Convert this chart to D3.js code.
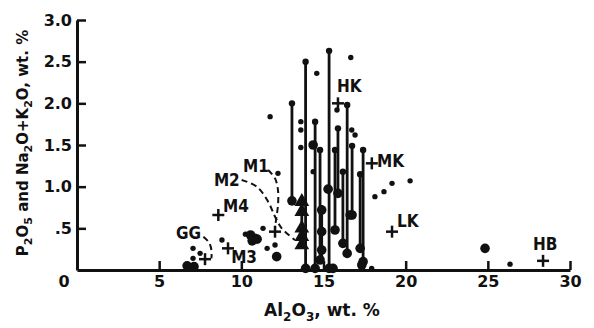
<!DOCTYPE html>
<html><head><meta charset="utf-8">
<script src="https://cdn.jsdelivr.net/npm/d3@7"></script>
<style>
html,body{margin:0;padding:0;background:#fff;}
svg{display:block;}
text{font-family:"DejaVu Sans",sans-serif;font-weight:bold;fill:#111;}
.lab{font-family:"DejaVu Sans Condensed","DejaVu Sans",sans-serif;font-stretch:condensed;}
</style></head>
<body>
<svg id="c" width="594" height="328"></svg>
<script>
// ---- data (Al2O3 wt.% , P2O5 / Na2O+K2O wt.%) ----
const xTicks = [5, 10, 15, 20, 25, 30];
const yTicks = [0.5, 1.0, 1.5, 2.0, 2.5, 3.0];
const yTickLabels = [".5", "1.0", "1.5", "2.0", "2.5", "3.0"];
// tie lines: [Al2O3, low value, high value]
const tieLines = [
  [13.08, 0.83, 2.00], [13.91, 0.02, 2.50], [14.49, 0.02, 1.78], [14.79, 0.12, 1.44],
  [15.34, 0.02, 2.63], [15.88, 0.92, 1.70], [16.44, 0.20, 1.98], [16.74, 0.66, 1.49],
  [17.41, 0.10, 1.44], [15.70, 0.48, 1.44], [16.18, 0.32, 1.18], [17.23, 0.26, 1.15],
  [13.68, 0.28, 0.86], [14.89, 0.12, 0.78]
];
const smallDots = [
  [11.75, 1.84], [14.59, 2.36], [16.66, 2.55], [13.62, 1.78], [13.62, 1.68], [13.62, 1.47],
  [15.82, 1.92], [16.72, 1.68], [16.92, 1.62], [14.37, 1.18], [12.23, 1.16],
  [18.13, 0.88], [18.68, 0.94], [19.17, 1.04], [20.27, 1.07],
  [26.35, 0.07], [17.93, 0.02], [11.32, 0.50], [11.57, 0.26], [12.05, 0.30],
  [8.82, 0.36], [10.25, 0.43], [7.06, 0.26], [7.06, 0.14], [7.49, 0.20]
];
const bigDots = [
  [14.37, 1.50], [15.28, 0.97], [16.62, 0.66], [14.89, 0.72], [14.89, 0.46], [14.89, 0.24],
  [12.15, 0.16], [24.83, 0.26], [6.70, 0.05], [7.12, 0.04],
  [10.56, 0.42], [10.81, 0.38], [10.66, 0.35], [10.96, 0.37], [15.58, 0.02], [17.33, 0.06]
];
const triangles = [[13.68, 0.82], [13.68, 0.70], [13.68, 0.50], [13.68, 0.40], [13.68, 0.30]];
const crosses = [[7.79, 0.13], [8.60, 0.66], [9.19, 0.26], [12.05, 0.46], [15.88, 2.00], [17.94, 1.28], [19.17, 0.46], [28.36, 0.11]];
// sample labels: [text, Al2O3, value, anchor]
const sampleLabels = [
  ["GG", 7.55, 0.37, "end"], ["M4", 8.89, 0.70, "start"], ["M2", 8.33, 1.01, "start"],
  ["M1", 10.10, 1.18, "start"], ["M3", 9.38, 0.08, "start"], ["HK", 15.82, 2.14, "start"],
  ["MK", 18.26, 1.24, "start"], ["LK", 19.48, 0.52, "start"], ["HB", 27.75, 0.24, "start"]
];
const ggCurve = [[7.69, 0.40], [8.03, 0.33], [8.18, 0.24], [8.18, 0.14]];
const m1Curve = [[11.63, 1.20], [12.05, 1.10], [12.23, 0.96], [12.23, 0.78], [12.11, 0.60], [12.05, 0.50]];
const m2Curve = [[10.02, 1.08], [10.94, 1.00], [11.63, 0.82], [12.05, 0.64], [12.46, 0.50], [13.26, 0.36]];

// ---- drawing ----
const svg = d3.select("#c");
const x = d3.scaleLinear().domain([0, 30]).range([77, 570]);
const y = d3.scaleLinear().domain([0, 3]).range([270, 20]);

const ax = svg.append("g").attr("transform", `translate(0,${y(0)})`)
  .call(d3.axisBottom(x).tickValues(xTicks).tickSize(-9).tickSizeOuter(0).tickPadding(6).tickFormat(d3.format("d")));
const ay = svg.append("g").attr("transform", `translate(${x(0)},0)`)
  .call(d3.axisLeft(y).tickValues(yTicks).tickSize(-9).tickSizeOuter(0).tickPadding(5)
    .tickFormat((d, i) => yTickLabels[i]));
[ax, ay].forEach(g => {
  g.select(".domain").attr("stroke", "#111").attr("stroke-width", 3);
  g.selectAll(".tick line").attr("stroke", "#111").attr("stroke-width", 2.5);
  g.selectAll(".tick text").attr("font-size", 16).attr("font-family", null).attr("fill", "#111");
});
svg.append("text").attr("x", x(0) - 13).attr("y", y(0) + 6).attr("dy", "0.71em")
  .attr("text-anchor", "middle").attr("font-size", 16).text("0");

// axis titles
const xt = svg.append("text").attr("x", 322).attr("y", 316).attr("text-anchor", "middle").attr("font-size", 17);
xt.append("tspan").text("Al");
xt.append("tspan").attr("font-size", 12).attr("dy", 5).text("2");
xt.append("tspan").attr("dy", -5).text("O");
xt.append("tspan").attr("font-size", 12).attr("dy", 5).text("3");
xt.append("tspan").attr("dy", -5).text(", wt. %");

const yt = svg.append("text").attr("transform", "translate(28,143) rotate(-90)")
  .attr("text-anchor", "middle").attr("font-size", 15);
[["P", 0], ["2", 1], ["O", 0], ["5", 1], [" and Na", 0], ["2", 1], ["O+K", 0], ["2", 1], ["O, wt. %", 0]]
  .forEach(([t, sub], i, arr) => {
    const prevSub = i > 0 ? arr[i - 1][1] : 0;
    yt.append("tspan").attr("font-size", sub ? 11 : 15).attr("dy", (sub - prevSub) * 4).text(t);
  });

// dashed boundary curves
const line = d3.line().x(d => x(d[0])).y(d => y(d[1])).curve(d3.curveCatmullRom);
[ggCurve, m1Curve, m2Curve].forEach(c =>
  svg.append("path").attr("d", line(c)).attr("fill", "none").attr("stroke", "#111")
    .attr("stroke-width", 2).attr("stroke-dasharray", "6,4"));

// tie lines
svg.append("g").selectAll("line").data(tieLines).join("line")
  .attr("x1", d => x(d[0])).attr("x2", d => x(d[0]))
  .attr("y1", d => y(d[1])).attr("y2", d => y(d[2]))
  .attr("stroke", "#111").attr("stroke-width", 2.8);
svg.append("g").selectAll("circle").data(tieLines.slice(0, 12)).join("circle")
  .attr("cx", d => x(d[0])).attr("cy", d => y(d[2])).attr("r", 3.2).attr("fill", "#111");
svg.append("g").selectAll("circle").data(tieLines.slice(0, 12)).join("circle")
  .attr("cx", d => x(d[0])).attr("cy", d => y(d[1])).attr("r", 4.8).attr("fill", "#111");

svg.append("g").selectAll("circle").data(smallDots).join("circle")
  .attr("cx", d => x(d[0])).attr("cy", d => y(d[1])).attr("r", 2.7).attr("fill", "#111");
svg.append("g").selectAll("circle").data(bigDots).join("circle")
  .attr("cx", d => x(d[0])).attr("cy", d => y(d[1])).attr("r", 4.8).attr("fill", "#111");
svg.append("g").selectAll("path").data(triangles).join("path")
  .attr("d", d3.symbol(d3.symbolTriangle, 95))
  .attr("transform", d => `translate(${x(d[0])},${y(d[1])})`).attr("fill", "#111");

// crosses
const cs = svg.append("g").selectAll("g").data(crosses).join("g")
  .attr("transform", d => `translate(${x(d[0])},${y(d[1])})`);
cs.append("line").attr("x1", -6).attr("x2", 6).attr("stroke", "#111").attr("stroke-width", 2.5);
cs.append("line").attr("y1", -6).attr("y2", 6).attr("stroke", "#111").attr("stroke-width", 2.5);

// labels
svg.append("g").selectAll("text").data(sampleLabels).join("text").attr("class", "lab")
  .attr("x", d => x(d[1])).attr("y", d => y(d[2])).attr("text-anchor", d => d[3])
  .attr("font-size", 17).text(d => d[0]);
</script>
</body></html>
